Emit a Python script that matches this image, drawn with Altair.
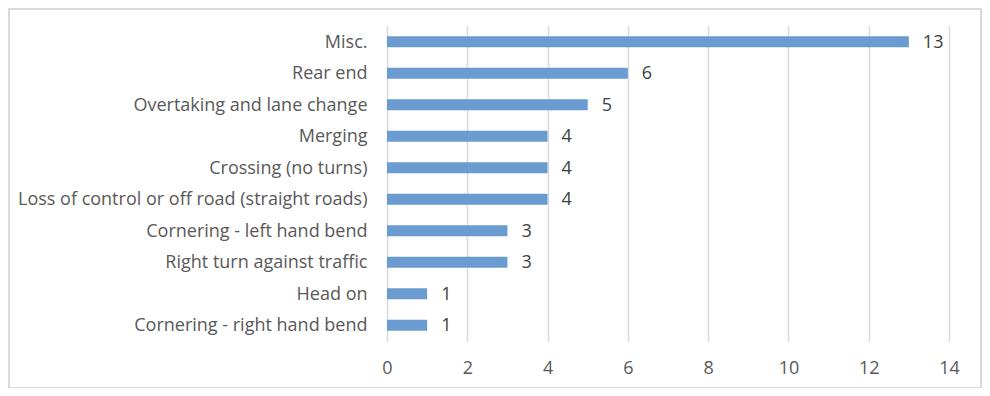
import altair as alt
import pandas as pd

categories = [
    "Misc.",
    "Rear end",
    "Overtaking and lane change",
    "Merging",
    "Crossing (no turns)",
    "Loss of control or off road (straight roads)",
    "Cornering - left hand bend",
    "Right turn against traffic",
    "Head on",
    "Cornering - right hand bend",
]
values = [13, 6, 5, 4, 4, 4, 3, 3, 1, 1]
x_ticks = [0, 2, 4, 6, 8, 10, 12, 14]

df = pd.DataFrame({"category": categories, "value": values})

FONT = "Open Sans"
FS = 18

y_enc = alt.Y(
    "category:N",
    sort=categories,
    title=None,
    scale=alt.Scale(paddingInner=0.65, paddingOuter=0.325),
    axis=alt.Axis(
        labelFontSize=FS,
        labelColor="#595959",
        labelFont=FONT,
        labelPadding=20,
        labelOffset=1,
        ticks=False,
        domain=False,
        grid=False,
        labelLimit=400,
    ),
)
x_enc = alt.X(
    "value:Q",
    title=None,
    scale=alt.Scale(domain=[0, 14], nice=False),
    axis=alt.Axis(
        values=x_ticks,
        labelFontSize=FS,
        labelColor="#595959",
        labelFont=FONT,
        labelPadding=18,
        labelFlush=False,
        ticks=False,
        domain=False,
        grid=True,
        gridColor="#D9D9D9",
        gridWidth=1.5,
    ),
)

bars = alt.Chart(df).mark_bar(color="#6A9BD1").encode(x=x_enc, y=y_enc)
labels = alt.Chart(df).mark_text(
    align="left", baseline="middle", dx=14, dy=1, fontSize=FS, font=FONT, color="#404040"
).encode(x="value:Q", y=alt.Y("category:N", sort=categories), text="value:Q")

frame = alt.Chart(df).mark_rect(
    fill=None, stroke="#D9D9D9", strokeWidth=2, clip=False
).encode(
    x=alt.value(-378), x2=alt.value(594), y=alt.value(-17), y2=alt.value(362)
)

chart = (
    alt.layer(frame, bars, labels)
    .properties(
        width=562,
        height=315,
        autosize=alt.AutoSizeParams(type="none"),
        padding={"left": 379, "top": 18, "right": 33, "bottom": 47},
        background="white",
    )
    .configure_view(stroke=None)
)

chart.save("out.html", embed_options={"renderer": "svg", "actions": False})
